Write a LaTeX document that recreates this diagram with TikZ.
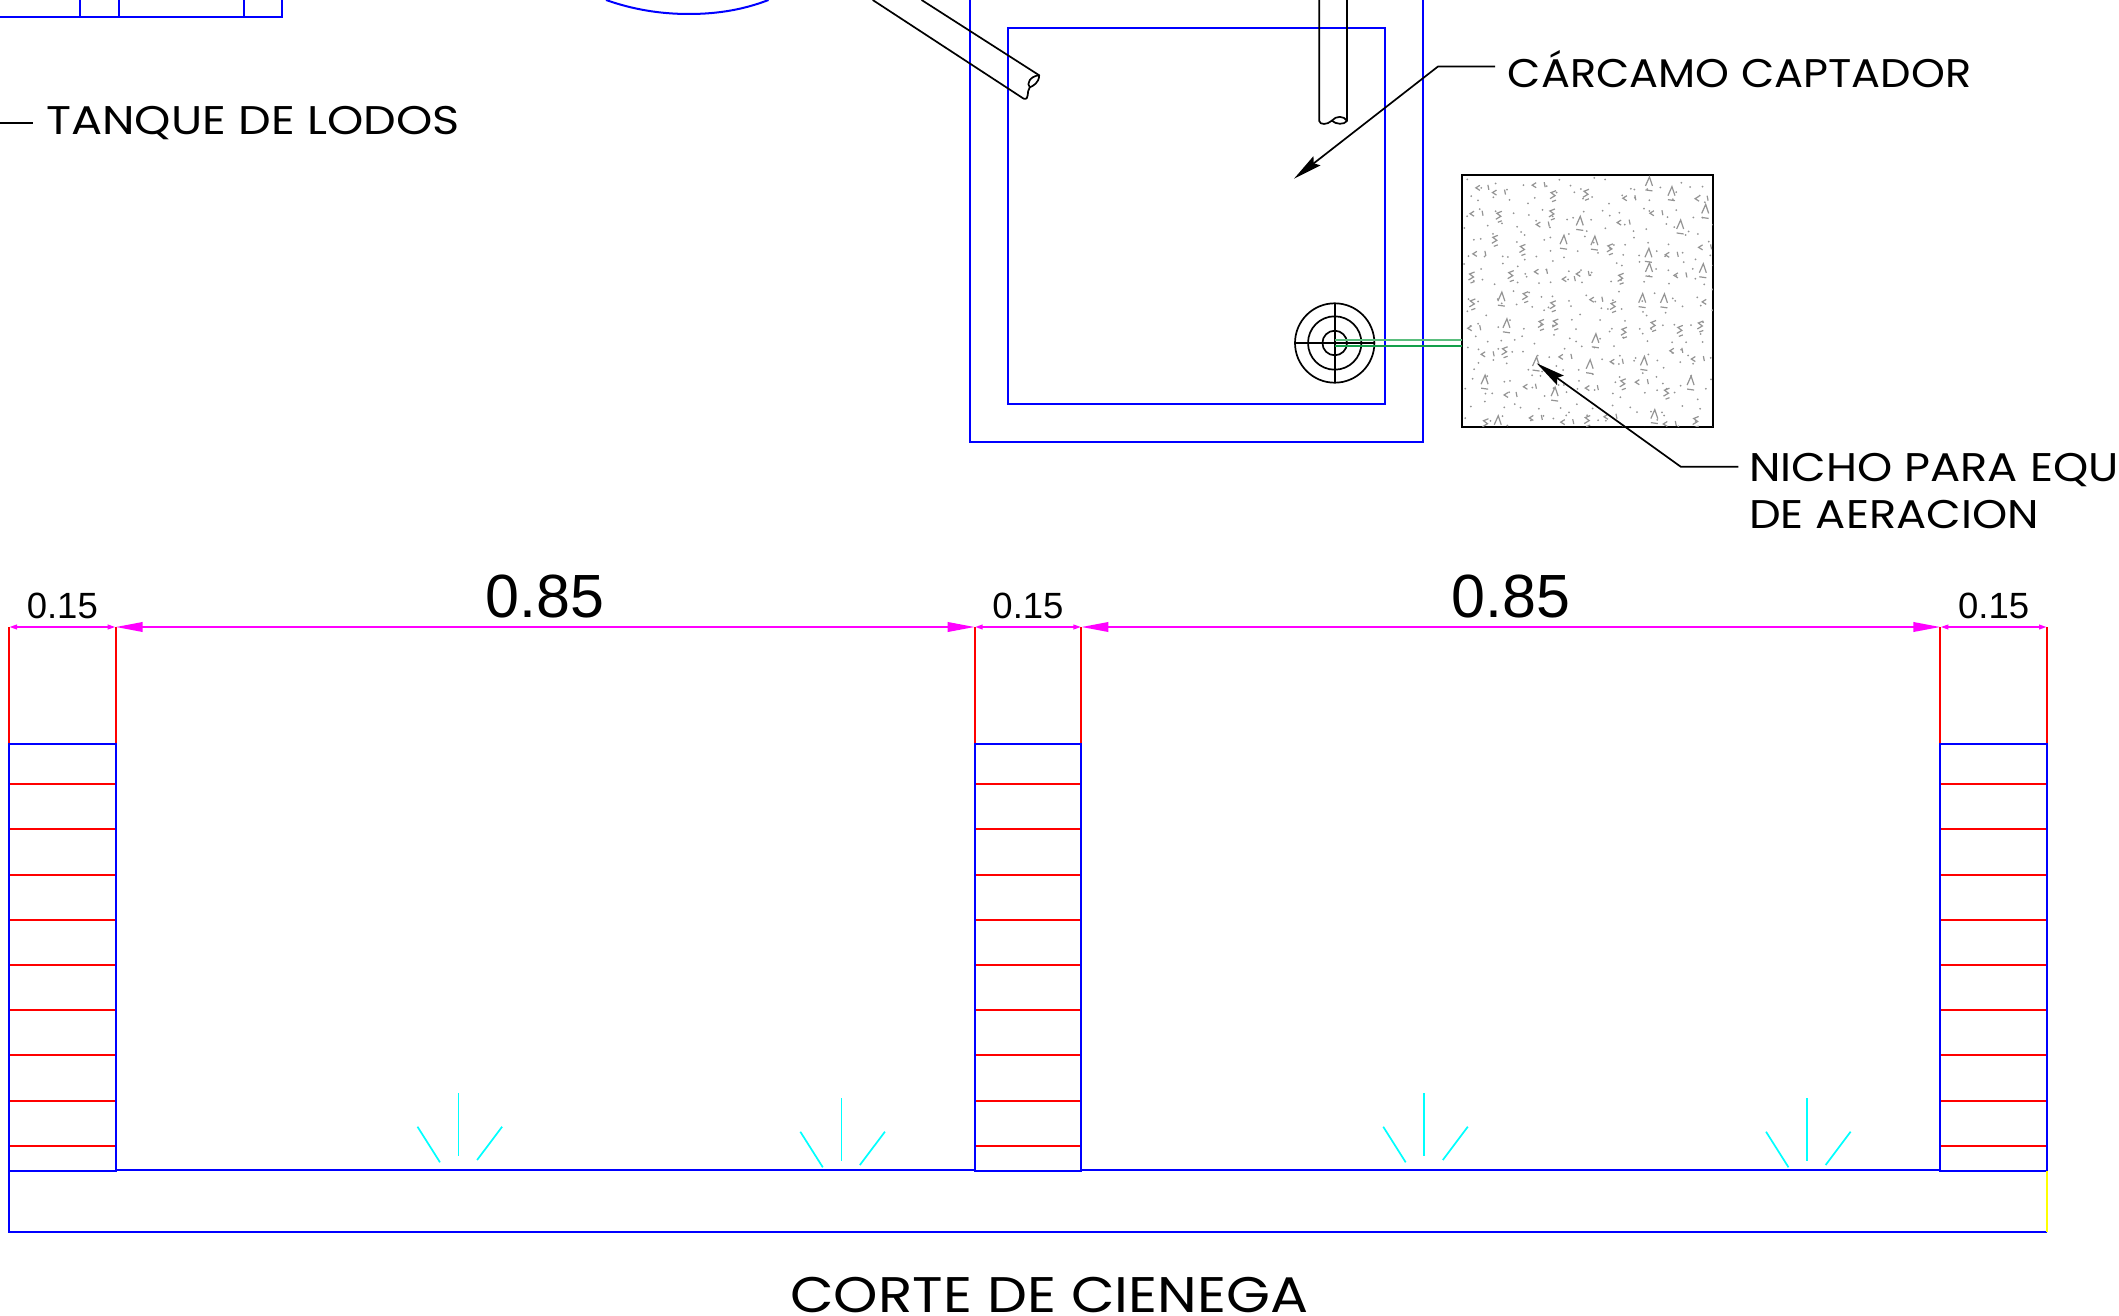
\documentclass[tikz,border=0pt]{standalone}
\usepackage{xcolor}
\usepackage{fontspec}
\usepackage{tikz}
\usetikzlibrary{arrows.meta,positioning}
\newfontfamily\labelfont{Poppins}
\newfontfamily\dimfont{Liberation Sans}
\definecolor{pipedark}{RGB}{20,160,75}
\definecolor{pipelight}{RGB}{90,190,125}
\definecolor{dimpink}{RGB}{255,0,255}
\definecolor{grasscyan}{RGB}{0,255,255}
\definecolor{wallblue}{RGB}{0,0,255}
\definecolor{fillred}{RGB}{255,0,0}
\definecolor{edgeyellow}{RGB}{255,255,0}

\begin{document}
\begin{tikzpicture}[x=1pt, y=-1pt]
    % Define styles
    \tikzstyle{wall} = [draw=wallblue, line width=2pt]
    \tikzstyle{fill line} = [draw=fillred, line width=2pt]
    \tikzstyle{pipe} = [draw=black, line width=1.7pt, line join=round]
    \tikzstyle{grass} = [draw=grasscyan, line width=1.7pt]
    \tikzstyle{leader} = [draw=black, line width=1.7pt, -{Stealth[length=29pt,width=11.5pt,inset=4pt]}]
    \tikzstyle{dimbig} = [draw=dimpink, line width=2pt, {Triangle[length=27pt,width=9.5pt]}-{Triangle[length=27pt,width=9.5pt]}]
    \tikzstyle{dimsmall} = [draw=dimpink, line width=2pt, {Triangle[length=8pt,width=4.5pt]}-{Triangle[length=8pt,width=4.5pt]}]
    \tikzstyle{title} = [anchor=base west, inner sep=0pt, font=\labelfont\fontsize{40}{40}\selectfont\addfontfeature{FakeStretch=1.12}]
    \tikzstyle{dimsmalltext} = [anchor=base, inner sep=0pt, font=\dimfont\fontsize{36.5}{36.5}\selectfont]
    \tikzstyle{dimbigtext} = [anchor=base, inner sep=0pt, font=\dimfont\fontsize{61}{61}\selectfont]
    \tikzstyle{stonebox} = [rectangle, draw=black, line width=2.2pt, minimum width=250.7pt, minimum height=251.7pt, inner sep=0pt, outer sep=0pt]
    \tikzstyle{speck} = [fill=black!42]
    \tikzstyle{stonemark} = [draw=black!42, line width=1.2pt]

    \useasboundingbox (0,0) rectangle (2119,1316);

    % Top left tank
    \draw [wall] (0,17) -- (282,17) -- (282,0);
    \draw [wall] (80,17) -- (80,0);
    \draw [wall] (118.6,17) -- (118.6,0);
    \draw [wall] (243.6,17) -- (243.6,0);
    \draw [wall] (606,0) .. controls (633,9.5) and (660,14) .. (689,14) .. controls (718,14) and (744,9.5) .. (768.5,0);

    % Sump walls
    \draw [wall] (970.4,0) -- (970.4,442) -- (1422.5,442) -- (1422.5,0);
    \draw [wall] (1008,28) rectangle (1385,404.3);

    % Pipes
    \draw [pipe] (872.7,0) -- (1023.7,98.7) .. controls (1030,100) and (1026,92) .. (1029.8,87.3) .. controls (1033,86) and (1039,83) .. (1039.2,75.3) -- (921.6,0);
    \draw [pipe] (1029.8,87.3) .. controls (1026,84) and (1030,76) .. (1039.2,75.3);
    \draw [pipe] (1319.2,0) -- (1319.2,121) .. controls (1320,125) and (1327,125) .. (1331.8,120.7) .. controls (1336,124.5) and (1344,125) .. (1347,121) -- (1347,0);
    \draw [pipe] (1331.8,120.7) .. controls (1336,115.5) and (1344,115.5) .. (1347,121);

    % Blower
    \coordinate (hub) at (1334.7,343);
    \draw [pipe] (hub) circle (39.7);
    \draw [pipe] (hub) circle (26.7);
    \draw [pipe] (hub) circle (12.3);
    \draw [pipe] (1295,343) -- (1374.4,343);
    \draw [pipe] (1334.7,303.3) -- (1334.7,382.7);

    % Nicho
    \node [stonebox] (nicho) at (1587.4,300.9) {};
    \draw [pipelight, line width=2pt] (1334.7,340.3) -- (1462,340.3);
    \draw [pipedark, line width=2.2pt] (1334.7,346) -- (1462,346);
    \begin{scope}
        \clip (nicho.north west) rectangle (nicho.south east);
        \pgfmathsetseed{2119}
        \foreach \gx in {0,...,17} {
            \foreach \gy in {0,...,17} {
                \pgfmathsetmacro\sx{1464+\gx*14+13*rnd}
                \pgfmathsetmacro\sy{177+\gy*14+13*rnd}
                \fill [speck] (\sx,\sy) circle (1);
            }
        }
        \foreach \gx in {0,...,8} {
            \foreach \gy in {0,...,8} {
                \pgfmathsetmacro\sx{1463+\gx*28+20*rnd}
                \pgfmathsetmacro\sy{182+\gy*28+18*rnd}
                \pgfmathtruncatemacro\kind{mod(\gx*2+\gy*5+int(3*rnd),3)}
                \begin{scope}[shift={(\sx,\sy)}]
                    \ifcase\kind
                        \draw [stonemark] (4,-2.5) -- (0,0) -- (4,2.5);
                        \draw [stonemark] (12,-3) -- (13,2);
                    \or
                        \draw [stonemark] (0,3) -- (4,-6) -- (7,3);
                        \draw [stonemark] (0,7) -- (7,8);
                    \or
                        \draw [stonemark] (6,-5) -- (1,-3) -- (5,0) -- (0,3);
                        \draw [stonemark] (2,6) -- (6,4.5);
                    \fi
                \end{scope}
            }
        }
    \end{scope}

    % Section walls
    \foreach \colx in {9,974.7,1940.3} {
        \draw [fill line] (\colx,627) -- (\colx,744);
        \draw [fill line] (\colx+106.7,627) -- (\colx+106.7,744);
        \foreach \row in {0,...,8} {
            \draw [fill line] (\colx,784.3+\row*45.17) -- (\colx+106.7,784.3+\row*45.17);
        }
        \draw [wall] (\colx,744) rectangle (\colx+106.7,1171.3);
    }
    \draw [wall] (115.7,1170.3) -- (974.7,1170.3);
    \draw [wall] (1081.4,1170.3) -- (1940.3,1170.3);
    \draw [wall] (2047,1232.3) -- (9,1232.3) -- (9,1171);
    \draw [edgeyellow, line width=2pt] (2047,1171.3) -- (2047,1232.3);

    % Grass marks
    \foreach \bayx in {0,965.7} {
        \foreach \tuftx/\tufty in {0/0,382.8/5} {
            \begin{scope}[shift={(\bayx+\tuftx,\tufty)}]
                \draw [grass] (458.6,1093.3) -- (458.6,1156);
                \draw [grass] (417.5,1126.7) -- (440,1162.3);
                \draw [grass] (502.1,1126.7) -- (477.1,1160);
            \end{scope}
        }
    }

    % Dimension points
    \coordinate (dimA) at (9,627);
    \coordinate (dimB) at (115.7,627);
    \coordinate (dimC) at (974.7,627);
    \coordinate (dimD) at (1081.4,627);
    \coordinate (dimE) at (1940.3,627);
    \coordinate (dimF) at (2047,627);

    % Dimensions
    \draw [dimsmall] (dimA) -- (dimB);
    \draw [dimbig] (dimB) -- (dimC);
    \draw [dimsmall] (dimC) -- (dimD);
    \draw [dimbig] (dimD) -- (dimE);
    \draw [dimsmall] (dimE) -- (dimF);
    \node [dimsmalltext] (widthA) at (62.3,618) {0.15};
    \node [dimsmalltext] (widthB) at (1028,618) {0.15};
    \node [dimsmalltext] (widthC) at (1993.6,618) {0.15};
    \node [dimbigtext] (bayA) at (545,617) {0.85};
    \node [dimbigtext] (bayB) at (1510.9,617) {0.85};

    % Labels
    \node [title, font=\labelfont\fontsize{40}{40}\selectfont\addfontfeature{FakeStretch=1.155}] (tanque) at (46,135) {TANQUE DE LODOS};
    \node [title, font=\labelfont\fontsize{40}{40}\selectfont\addfontfeature{FakeStretch=1.077}] (carcamo) at (1507.7,88) {CÁRCAMO CAPTADOR};
    \node [title] (equipo) at (1749,481) {NICHO PARA EQU};
    \node [title] (aeracion) at (1749,528) {DE AERACION};
    \node [title, font=\labelfont\fontsize{50}{50}\selectfont\addfontfeature{FakeStretch=1.13}] (corte) at (790,1312.3) {CORTE DE CIENEGA};

    % Leaders
    \coordinate (tanqueend) at (33,122.7);
    \coordinate (tanquefree) at (0,122.7);
    \draw [pipe] (tanquefree) -- (tanqueend);
    \coordinate (carcamoend) at (1495,66.5);
    \coordinate (carcamoelbow) at (1438,66.5);
    \coordinate (carcamotip) at (1294,178.7);
    \draw [leader] (carcamoend) -- (carcamoelbow) -- (carcamotip);
    \coordinate (nichoend) at (1738.3,466.7);
    \coordinate (nichoelbow) at (1680.7,466.7);
    \coordinate (nichotip) at (1536.7,363.3);
    \draw [leader] (nichoend) -- (nichoelbow) -- (nichotip);
\end{tikzpicture}
\end{document}
